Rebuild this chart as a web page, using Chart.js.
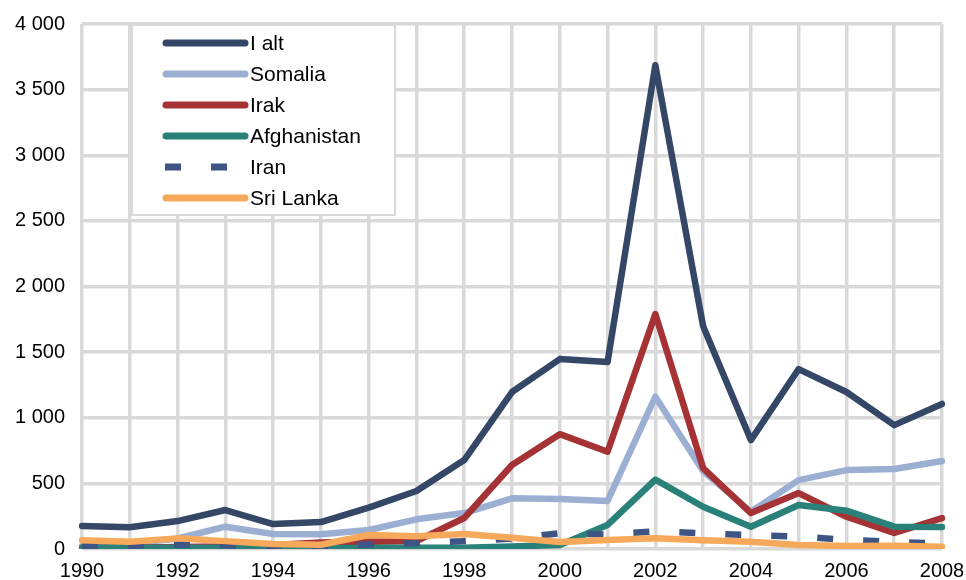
<!DOCTYPE html>
<html lang="da">
<head>
<meta charset="UTF-8">
<title>Asylansøgere</title>
<script src="https://cdn.jsdelivr.net/npm/chart.js"></script>
<style>
    html, body { margin: 0; padding: 0; background: #fff; }
    #wrap { width: 966px; height: 580px; }
</style>
</head>
<body>
<div id="wrap"><canvas id="chart" width="966" height="580"></canvas></div>
<script>
    const years = ['1990','1991','1992','1993','1994','1995','1996','1997','1998','1999',
                   '2000','2001','2002','2003','2004','2005','2006','2007','2008'];

    const iAlt        = [175, 165, 213, 297, 190, 205, 315, 442, 678, 1196, 1447, 1424, 3686, 1698, 830, 1371, 1196, 944, 1105];
    const somalia     = [20, 40, 80, 170, 114, 112, 145, 226, 274, 386, 381, 366, 1160, 595, 284, 525, 601, 609, 670];
    const irak        = [10, 10, 15, 20, 30, 50, 56, 60, 236, 640, 875, 741, 1790, 617, 274, 426, 246, 122, 236];
    const afghanistan = [10, 10, 10, 10, 5, 5, 10, 10, 10, 20, 30, 183, 528, 322, 170, 335, 292, 170, 168];
    const iran        = [20, 25, 35, 30, 15, 20, 35, 45, 60, 80, 120, 110, 135, 120, 105, 95, 70, 55, 40];
    const sriLanka    = [66, 56, 81, 60, 38, 32, 107, 97, 115, 85, 53, 69, 81, 66, 56, 30, 23, 25, 18];

    const yTicks = [0, 500, 1000, 1500, 2000, 2500, 3000, 3500, 4000];

    const series = [
        { label: 'I alt',       data: iAlt,        color: '#344766', dash: [] },
        { label: 'Somalia',     data: somalia,     color: '#9bafd2', dash: [] },
        { label: 'Irak',        data: irak,        color: '#a53234', dash: [] },
        { label: 'Afghanistan', data: afghanistan, color: '#2a8179', dash: [] },
        { label: 'Iran',        data: iran,        color: '#3d5484', dash: [16, 30] },
        { label: 'Sri Lanka',   data: sriLanka,    color: '#f7a95b', dash: [] }
    ];

    const fmt = v => String(v).replace(/\B(?=(\d{3})+(?!\d))/g, ' ');
    const font = { family: '"Liberation Sans", Arial, sans-serif', size: 20 };

    const noOverflow = scale => {
        scale.paddingTop = 0; scale.paddingBottom = 0;
        scale.paddingLeft = 0; scale.paddingRight = 0;
    };

    // legend box drawn inside the plot area
    const boxLegend = {
        id: 'boxLegend',
        afterDatasetsDraw(chart) {
            const ctx = chart.ctx;
            ctx.save();
            ctx.fillStyle = '#fff';
            ctx.fillRect(132, 25, 263, 190);
            ctx.strokeStyle = '#d9d9d9';
            ctx.lineWidth = 2;
            ctx.strokeRect(132, 25, 263, 190);
            ctx.font = '21px "Liberation Sans", Arial, sans-serif';
            ctx.textBaseline = 'middle';
            series.forEach((s, i) => {
                const y = 43 + i * 31;
                ctx.beginPath();
                ctx.strokeStyle = s.color;
                ctx.lineWidth = 7;
                ctx.setLineDash(s.dash);
                ctx.lineCap = s.dash.length ? 'butt' : 'round';
                ctx.moveTo(s.dash.length ? 165 : 166, y);
                ctx.lineTo(s.dash.length ? 228 : 245, y);
                ctx.stroke();
                ctx.setLineDash([]);
                ctx.fillStyle = '#000';
                ctx.fillText(s.label, 250, y + 1);
            });
            ctx.restore();
        }
    };

    new Chart(document.getElementById('chart'), {
        type: 'line',
        data: {
            labels: years,
            datasets: series.map((s, i) => ({
                label: s.label,
                data: s.data,
                borderColor: s.color,
                backgroundColor: s.color,
                borderWidth: 6.5,
                borderDash: s.dash,
                borderCapStyle: s.dash.length ? 'butt' : 'round',
                borderJoinStyle: 'round',
                pointRadius: 0,
                tension: 0,
                order: series.length - i
            }))
        },
        options: {
            responsive: false,
            animation: false,
            layout: { padding: { top: 24, right: 24, left: 0, bottom: 0 } },
            plugins: { legend: { display: false }, tooltip: { enabled: false } },
            scales: {
                x: {
                    offset: false,
                    grid: { color: '#d9d9d9', lineWidth: 3.5, drawTicks: false },
                    border: { display: false },
                    ticks: {
                        autoSkip: false, maxRotation: 0, color: '#000', font: font, padding: 10,
                        callback: (v, i) => (i % 2 === 0 ? years[i] : '')
                    },
                    afterFit: scale => { scale.height = 31; noOverflow(scale); }
                },
                y: {
                    min: 0, max: 4000,
                    afterBuildTicks: scale => { scale.ticks = yTicks.map(v => ({ value: v })); },
                    grid: { color: '#d9d9d9', lineWidth: 3.5, drawTicks: false },
                    border: { display: false },
                    ticks: { color: '#000', font: font, padding: 17, callback: v => fmt(v) },
                    afterFit: scale => { scale.width = 82; noOverflow(scale); }
                }
            }
        },
        plugins: [boxLegend]
    });
</script>
</body>
</html>
